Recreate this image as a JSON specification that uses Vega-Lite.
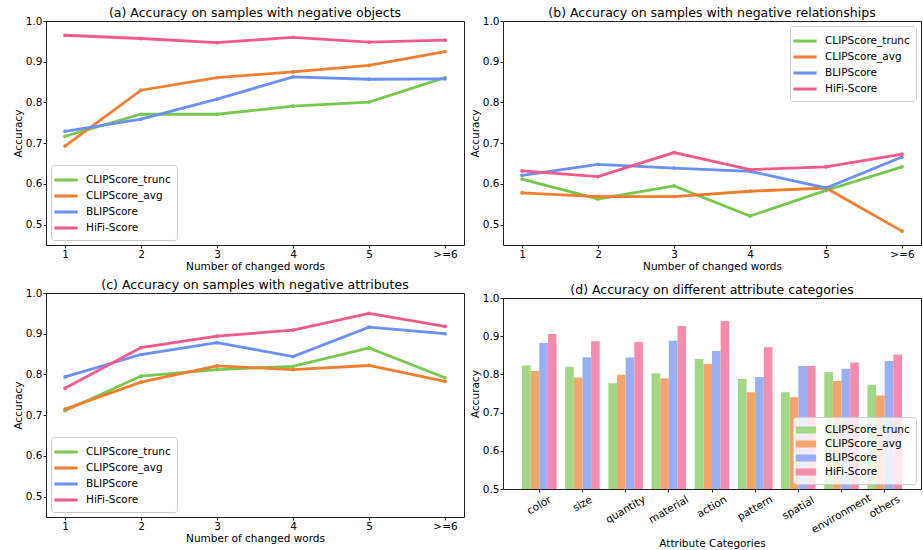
{
  "$schema": "https://vega.github.io/schema/vega-lite/v6.json",
  "padding": {"left": 12, "top": 6, "right": 0, "bottom": 0},
  "datasets": {
    "a": [
      {"x": "1", "s": "CLIPScore_trunc", "v": 0.717}, {"x": "2", "s": "CLIPScore_trunc", "v": 0.771}, {"x": "3", "s": "CLIPScore_trunc", "v": 0.771}, {"x": "4", "s": "CLIPScore_trunc", "v": 0.791}, {"x": "5", "s": "CLIPScore_trunc", "v": 0.801}, {"x": ">=6", "s": "CLIPScore_trunc", "v": 0.861},
      {"x": "1", "s": "CLIPScore_avg", "v": 0.693}, {"x": "2", "s": "CLIPScore_avg", "v": 0.830}, {"x": "3", "s": "CLIPScore_avg", "v": 0.861}, {"x": "4", "s": "CLIPScore_avg", "v": 0.875}, {"x": "5", "s": "CLIPScore_avg", "v": 0.891}, {"x": ">=6", "s": "CLIPScore_avg", "v": 0.925},
      {"x": "1", "s": "BLIPScore", "v": 0.729}, {"x": "2", "s": "BLIPScore", "v": 0.759}, {"x": "3", "s": "BLIPScore", "v": 0.808}, {"x": "4", "s": "BLIPScore", "v": 0.863}, {"x": "5", "s": "BLIPScore", "v": 0.857}, {"x": ">=6", "s": "BLIPScore", "v": 0.858},
      {"x": "1", "s": "HiFi-Score", "v": 0.965}, {"x": "2", "s": "HiFi-Score", "v": 0.957}, {"x": "3", "s": "HiFi-Score", "v": 0.947}, {"x": "4", "s": "HiFi-Score", "v": 0.960}, {"x": "5", "s": "HiFi-Score", "v": 0.948}, {"x": ">=6", "s": "HiFi-Score", "v": 0.953}
    ],
    "b": [
      {"x": "1", "s": "CLIPScore_trunc", "v": 0.612}, {"x": "2", "s": "CLIPScore_trunc", "v": 0.563}, {"x": "3", "s": "CLIPScore_trunc", "v": 0.595}, {"x": "4", "s": "CLIPScore_trunc", "v": 0.521}, {"x": "5", "s": "CLIPScore_trunc", "v": 0.584}, {"x": ">=6", "s": "CLIPScore_trunc", "v": 0.642},
      {"x": "1", "s": "CLIPScore_avg", "v": 0.578}, {"x": "2", "s": "CLIPScore_avg", "v": 0.569}, {"x": "3", "s": "CLIPScore_avg", "v": 0.569}, {"x": "4", "s": "CLIPScore_avg", "v": 0.582}, {"x": "5", "s": "CLIPScore_avg", "v": 0.590}, {"x": ">=6", "s": "CLIPScore_avg", "v": 0.484},
      {"x": "1", "s": "BLIPScore", "v": 0.621}, {"x": "2", "s": "BLIPScore", "v": 0.648}, {"x": "3", "s": "BLIPScore", "v": 0.639}, {"x": "4", "s": "BLIPScore", "v": 0.631}, {"x": "5", "s": "BLIPScore", "v": 0.590}, {"x": ">=6", "s": "BLIPScore", "v": 0.666},
      {"x": "1", "s": "HiFi-Score", "v": 0.632}, {"x": "2", "s": "HiFi-Score", "v": 0.618}, {"x": "3", "s": "HiFi-Score", "v": 0.677}, {"x": "4", "s": "HiFi-Score", "v": 0.635}, {"x": "5", "s": "HiFi-Score", "v": 0.642}, {"x": ">=6", "s": "HiFi-Score", "v": 0.673}
    ],
    "c": [
      {"x": "1", "s": "CLIPScore_trunc", "v": 0.711}, {"x": "2", "s": "CLIPScore_trunc", "v": 0.796}, {"x": "3", "s": "CLIPScore_trunc", "v": 0.812}, {"x": "4", "s": "CLIPScore_trunc", "v": 0.820}, {"x": "5", "s": "CLIPScore_trunc", "v": 0.865}, {"x": ">=6", "s": "CLIPScore_trunc", "v": 0.792},
      {"x": "1", "s": "CLIPScore_avg", "v": 0.715}, {"x": "2", "s": "CLIPScore_avg", "v": 0.781}, {"x": "3", "s": "CLIPScore_avg", "v": 0.821}, {"x": "4", "s": "CLIPScore_avg", "v": 0.812}, {"x": "5", "s": "CLIPScore_avg", "v": 0.822}, {"x": ">=6", "s": "CLIPScore_avg", "v": 0.783},
      {"x": "1", "s": "BLIPScore", "v": 0.794}, {"x": "2", "s": "BLIPScore", "v": 0.849}, {"x": "3", "s": "BLIPScore", "v": 0.878}, {"x": "4", "s": "BLIPScore", "v": 0.844}, {"x": "5", "s": "BLIPScore", "v": 0.916}, {"x": ">=6", "s": "BLIPScore", "v": 0.900},
      {"x": "1", "s": "HiFi-Score", "v": 0.766}, {"x": "2", "s": "HiFi-Score", "v": 0.866}, {"x": "3", "s": "HiFi-Score", "v": 0.894}, {"x": "4", "s": "HiFi-Score", "v": 0.909}, {"x": "5", "s": "HiFi-Score", "v": 0.950}, {"x": ">=6", "s": "HiFi-Score", "v": 0.918}
    ],
    "d": [
      {"cat": "color", "s": "CLIPScore_trunc", "v": 0.823}, {"cat": "color", "s": "CLIPScore_avg", "v": 0.809}, {"cat": "color", "s": "BLIPScore", "v": 0.882}, {"cat": "color", "s": "HiFi-Score", "v": 0.906},
      {"cat": "size", "s": "CLIPScore_trunc", "v": 0.820}, {"cat": "size", "s": "CLIPScore_avg", "v": 0.792}, {"cat": "size", "s": "BLIPScore", "v": 0.845}, {"cat": "size", "s": "HiFi-Score", "v": 0.887},
      {"cat": "quantity", "s": "CLIPScore_trunc", "v": 0.777}, {"cat": "quantity", "s": "CLIPScore_avg", "v": 0.799}, {"cat": "quantity", "s": "BLIPScore", "v": 0.844}, {"cat": "quantity", "s": "HiFi-Score", "v": 0.885},
      {"cat": "material", "s": "CLIPScore_trunc", "v": 0.803}, {"cat": "material", "s": "CLIPScore_avg", "v": 0.789}, {"cat": "material", "s": "BLIPScore", "v": 0.888}, {"cat": "material", "s": "HiFi-Score", "v": 0.927},
      {"cat": "action", "s": "CLIPScore_trunc", "v": 0.840}, {"cat": "action", "s": "CLIPScore_avg", "v": 0.827}, {"cat": "action", "s": "BLIPScore", "v": 0.861}, {"cat": "action", "s": "HiFi-Score", "v": 0.940},
      {"cat": "pattern", "s": "CLIPScore_trunc", "v": 0.788}, {"cat": "pattern", "s": "CLIPScore_avg", "v": 0.753}, {"cat": "pattern", "s": "BLIPScore", "v": 0.793}, {"cat": "pattern", "s": "HiFi-Score", "v": 0.871},
      {"cat": "spatial", "s": "CLIPScore_trunc", "v": 0.753}, {"cat": "spatial", "s": "CLIPScore_avg", "v": 0.740}, {"cat": "spatial", "s": "BLIPScore", "v": 0.822}, {"cat": "spatial", "s": "HiFi-Score", "v": 0.822},
      {"cat": "environment", "s": "CLIPScore_trunc", "v": 0.806}, {"cat": "environment", "s": "CLIPScore_avg", "v": 0.783}, {"cat": "environment", "s": "BLIPScore", "v": 0.815}, {"cat": "environment", "s": "HiFi-Score", "v": 0.831},
      {"cat": "others", "s": "CLIPScore_trunc", "v": 0.773}, {"cat": "others", "s": "CLIPScore_avg", "v": 0.745}, {"cat": "others", "s": "BLIPScore", "v": 0.835}, {"cat": "others", "s": "HiFi-Score", "v": 0.852}
    ]
  },
  "config": {
    "font": "DejaVu Sans",
    "view": {"stroke": "#222", "strokeWidth": 1},
    "title": {"fontSize": 12.5, "fontWeight": "normal", "offset": -3, "color": "#000", "font": "DejaVu Sans", "frame": "group"},
    "axis": {"labelFontSize": 10.5, "titleFontSize": 10.5, "titleFontWeight": "normal", "labelColor": "#000", "titleColor": "#000", "tickColor": "#222", "tickSize": 3, "domain": false, "grid": false, "labelPadding": 1, "titlePadding": 2, "labelFont": "DejaVu Sans", "titleFont": "DejaVu Sans"},
    "legend": {"labelFontSize": 10.5, "labelFont": "DejaVu Sans", "fillColor": "rgba(255,255,255,0.8)", "strokeColor": "#cccccc", "padding": 6, "cornerRadius": 3, "rowPadding": 1, "offset": 5, "labelLimit": 200, "labelOffset": 11}
  },
  "spacing": 4,
  "resolve": {"scale": {"color": "independent"}, "legend": {"color": "independent"}},
  "hconcat": [
    {
      "spacing": 5,
      "resolve": {"scale": {"color": "independent"}, "legend": {"color": "independent"}},
      "vconcat": [
        {
          "width": 418, "height": 224,
          "title": "(a) Accuracy on samples with negative objects",
          "data": {"name": "a"},
          "mark": {"type": "line", "strokeWidth": 2.8, "point": {"filled": true, "size": 14}},
          "encoding": {
            "x": {"field": "x", "type": "ordinal", "sort": ["1", "2", "3", "4", "5", ">=6"], "scale": {"type": "point", "padding": 0.25}, "axis": {"labelAngle": 0, "title": "Number of changed words"}},
            "y": {"field": "v", "type": "quantitative", "scale": {"domain": [0.45, 1.0], "nice": false, "zero": false}, "axis": {"values": [0.5, 0.6, 0.7, 0.8, 0.9, 1.0], "format": ".1f", "title": "Accuracy"}},
            "color": {"field": "s", "type": "nominal", "scale": {"domain": ["CLIPScore_trunc", "CLIPScore_avg", "BLIPScore", "HiFi-Score"], "range": ["#78c850", "#f07e2e", "#6b8ff2", "#f05a8a"]}, "legend": {"title": null, "orient": "bottom-left", "symbolType": "M-1.55,0H1.55", "symbolSize": 225, "symbolStrokeWidth": 3}}
          }
        },
        {
          "width": 418, "height": 224,
          "title": "(c) Accuracy on samples with negative attributes",
          "data": {"name": "c"},
          "mark": {"type": "line", "strokeWidth": 2.8, "point": {"filled": true, "size": 14}},
          "encoding": {
            "x": {"field": "x", "type": "ordinal", "sort": ["1", "2", "3", "4", "5", ">=6"], "scale": {"type": "point", "padding": 0.25}, "axis": {"labelAngle": 0, "title": "Number of changed words"}},
            "y": {"field": "v", "type": "quantitative", "scale": {"domain": [0.45, 1.0], "nice": false, "zero": false}, "axis": {"values": [0.5, 0.6, 0.7, 0.8, 0.9, 1.0], "format": ".1f", "title": "Accuracy"}},
            "color": {"field": "s", "type": "nominal", "scale": {"domain": ["CLIPScore_trunc", "CLIPScore_avg", "BLIPScore", "HiFi-Score"], "range": ["#78c850", "#f07e2e", "#6b8ff2", "#f05a8a"]}, "legend": {"title": null, "orient": "bottom-left", "symbolType": "M-1.55,0H1.55", "symbolSize": 225, "symbolStrokeWidth": 3}}
          }
        }
      ]
    },
    {
      "spacing": 10,
      "resolve": {"scale": {"color": "independent"}, "legend": {"color": "independent"}},
      "vconcat": [
        {
          "width": 418, "height": 224,
          "title": "(b) Accuracy on samples with negative relationships",
          "data": {"name": "b"},
          "mark": {"type": "line", "strokeWidth": 2.8, "point": {"filled": true, "size": 14}},
          "encoding": {
            "x": {"field": "x", "type": "ordinal", "sort": ["1", "2", "3", "4", "5", ">=6"], "scale": {"type": "point", "padding": 0.25}, "axis": {"labelAngle": 0, "title": "Number of changed words"}},
            "y": {"field": "v", "type": "quantitative", "scale": {"domain": [0.45, 1.0], "nice": false, "zero": false}, "axis": {"values": [0.5, 0.6, 0.7, 0.8, 0.9, 1.0], "format": ".1f", "title": "Accuracy"}},
            "color": {"field": "s", "type": "nominal", "scale": {"domain": ["CLIPScore_trunc", "CLIPScore_avg", "BLIPScore", "HiFi-Score"], "range": ["#78c850", "#f07e2e", "#6b8ff2", "#f05a8a"]}, "legend": {"title": null, "orient": "top-right", "symbolType": "M-1.55,0H1.55", "symbolSize": 225, "symbolStrokeWidth": 3}}
          }
        },
        {
          "width": 418, "height": 191,
          "title": "(d) Accuracy on different attribute categories",
          "data": {"name": "d"},
          "mark": {"type": "bar", "clip": true},
          "encoding": {
            "x": {"field": "cat", "type": "nominal", "sort": ["color", "size", "quantity", "material", "action", "pattern", "spatial", "environment", "others"], "scale": {"paddingInner": 0.2, "paddingOuter": 0.44}, "axis": {"title": "Attribute Categories", "labelAngle": -30, "labelAlign": "center", "labelBaseline": "middle", "labelPadding": {"expr": "6 + 1.42 * length(datum.label)"}, "titlePadding": 3}},
            "xOffset": {"field": "s", "type": "nominal", "sort": ["CLIPScore_trunc", "CLIPScore_avg", "BLIPScore", "HiFi-Score"], "scale": {"paddingInner": 0, "paddingOuter": 0}},
            "y": {"field": "v", "type": "quantitative", "scale": {"domain": [0.5, 1.0], "nice": false, "zero": false}, "axis": {"values": [0.5, 0.6, 0.7, 0.8, 0.9, 1.0], "format": ".1f", "title": "Accuracy"}},
            "color": {"field": "s", "type": "nominal", "scale": {"domain": ["CLIPScore_trunc", "CLIPScore_avg", "BLIPScore", "HiFi-Score"], "range": ["#a1d885", "#f5a46d", "#98b0f3", "#f78bac"]}, "legend": {"title": null, "orient": "bottom-right", "symbolType": "M-1.45,-0.5H1.45V0.5H-1.45Z", "symbolSize": 196, "symbolStrokeWidth": 0, "labelOffset": 12}}
          }
        }
      ]
    }
  ]
}
